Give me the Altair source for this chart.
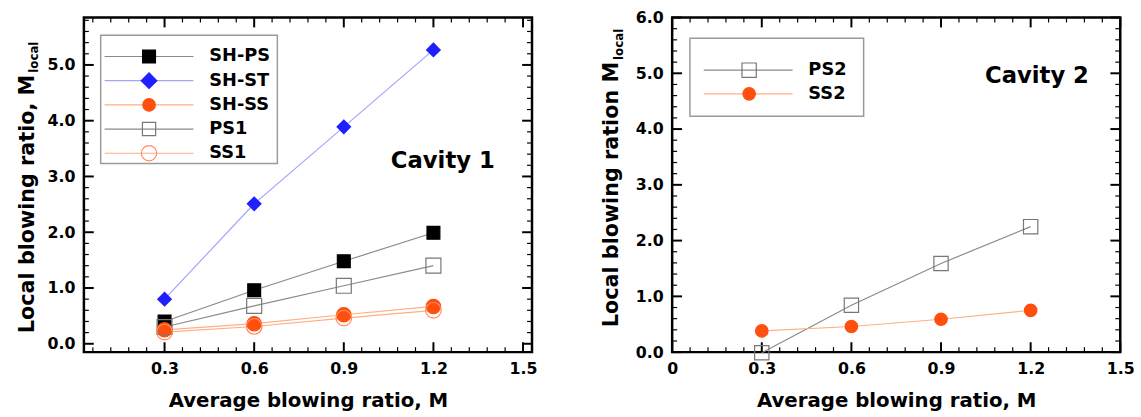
import altair as alt
import pandas as pd

# ---------------- data ----------------
M = [0.3, 0.6, 0.9, 1.2]

sh_ps = [0.40, 0.96, 1.48, 1.99]
sh_st = [0.80, 2.51, 3.89, 5.27]
sh_ss = [0.25, 0.36, 0.52, 0.67]
ps1 = [0.30, 0.68, 1.04, 1.40]
ss1 = [0.21, 0.31, 0.46, 0.60]

ps2 = [-0.01, 0.84, 1.59, 2.25]
ss2 = [0.38, 0.46, 0.59, 0.75]

series1 = ["SH-PS", "SH-ST", "SH-SS", "PS1", "SS1"]
series2 = ["PS2", "SS2"]

x_labels_1 = [0.3, 0.6, 0.9, 1.2, 1.5]
x_labels_2 = [0.0, 0.3, 0.6, 0.9, 1.2, 1.5]
y_labels_1 = [0, 1, 2, 3, 4, 5]
y_labels_2 = [0, 1, 2, 3, 4, 5, 6]

# ---------------- styling ----------------
FONT = "DejaVu Sans"
W, H = 454, 339

STYLE = {
    "SH-PS": dict(line="#8a8a8a", shape="square", fill="#000000", stroke="#000000", size=170),
    "SH-ST": dict(line="#a3a3ff", shape="diamond", fill="#1f1fff", stroke="#1f1fff", size=250),
    "SH-SS": dict(line="#ffae85", shape="circle", fill="#ff4f0f", stroke="#ff4f0f", size=160),
    "PS1": dict(line="#8a8a8a", shape="square", fill="transparent", stroke="#777777", size=180),
    "SS1": dict(line="#ffae85", shape="circle", fill="transparent", stroke="#ff8a5c", size=240),
    "PS2": dict(line="#8a8a8a", shape="square", fill="transparent", stroke="#777777", size=210),
    "SS2": dict(line="#ffae85", shape="circle", fill="#ff4f0f", stroke="#ff4f0f", size=160),
}


def long_df(names, values):
    rows = []
    for n, vals in zip(names, values):
        for m, v in zip(M, vals):
            rows.append({"M": m, "val": v, "series": n})
    return pd.DataFrame(rows)


def tick_layers(xs, ys, xaxis, yaxis, xmajor, xminor, ymajor, yminor):
    layers = []
    for vals, ln in ((xmajor, 10), (xminor, 5)):
        d = pd.DataFrame({"M": vals})
        for y0, y1 in ((H, H - ln), (0, ln)):
            layers.append(
                alt.Chart(d).mark_rule(color="black", strokeWidth=2 if ln == 10 else 1.2).encode(
                    x=alt.X("M:Q", scale=xs, axis=xaxis),
                    y=alt.value(y0), y2=alt.value(y1))
            )
    for vals, ln in ((ymajor, 10), (yminor, 5)):
        d = pd.DataFrame({"val": vals})
        for x0, x1 in ((0, ln), (W, W - ln)):
            layers.append(
                alt.Chart(d).mark_rule(color="black", strokeWidth=2 if ln == 10 else 1.2).encode(
                    y=alt.Y("val:Q", scale=ys, axis=yaxis),
                    x=alt.value(x0), x2=alt.value(x1))
            )
    return layers


def one(text, x, y, size, **kw):
    return alt.Chart(alt.Data(values=[{}])).mark_text(
        font=FONT, fontWeight="bold", fontSize=size, color="black", **kw
    ).encode(x=alt.value(x), y=alt.value(y), text=alt.value(text))


def legend_layers(names, box, line_x, mark_x, text_x, ys):
    x0, y0, x1, y1 = box
    layers = [alt.Chart(alt.Data(values=[{}])).mark_rect(
        fill="white", stroke="#9a9a9a", strokeWidth=1.5
    ).encode(x=alt.value(x0), x2=alt.value(x1), y=alt.value(y0), y2=alt.value(y1))]
    for n, yy in zip(names, ys):
        s = STYLE[n]
        layers.append(alt.Chart(alt.Data(values=[{}])).mark_rule(
            color=s["line"], strokeWidth=1.2
        ).encode(x=alt.value(line_x[0]), x2=alt.value(line_x[1]), y=alt.value(yy)))
        layers.append(alt.Chart(alt.Data(values=[{}])).mark_point(
            shape=s["shape"], fill=s["fill"], stroke=s["stroke"], size=s["size"],
            opacity=1, strokeWidth=1.2, filled=True
        ).encode(x=alt.value(mark_x), y=alt.value(yy)))
        layers.append(one(n, text_x, yy, 18, align="left", baseline="middle"))
    return layers


def panel(df, names, xdom, ydom, xlab, ylab, xfmt, ytitle, ytitle_x, ytitle_end,
          legend, cavity):
    xs = alt.Scale(domain=xdom, nice=False, zero=False)
    ys = alt.Scale(domain=ydom, nice=False, zero=False)
    xaxis = alt.Axis(values=xlab, labelExpr=xfmt, ticks=False, domain=False, grid=False,
                     labelFont=FONT, labelFontSize=16, labelFontWeight="bold",
                     labelColor="black", labelPadding=9, labelFlush=False,
                     labelOverlap=False, labelBound=False,
                     title="Average blowing ratio, M", titleFont=FONT, titleFontSize=20,
                     titleFontWeight="bold", titleColor="black", titlePadding=14)
    yaxis = alt.Axis(values=ylab, format=".1f", ticks=False, domain=False, grid=False,
                     labelFont=FONT, labelFontSize=16, labelFontWeight="bold",
                     labelColor="black", labelPadding=9, labelFlush=False,
                     labelOverlap=False, labelBound=False, title=None)
    color_scale = alt.Scale(domain=names, range=[STYLE[n]["line"] for n in names])
    base = alt.Chart(df)
    lines = base.mark_line(strokeWidth=1.2).encode(
        x=alt.X("M:Q", scale=xs, axis=xaxis),
        y=alt.Y("val:Q", scale=ys, axis=yaxis),
        color=alt.Color("series:N", scale=color_scale, legend=None),
        detail="series:N",
    )
    points = base.mark_point(filled=True, opacity=1, strokeWidth=1.2).encode(
        x=alt.X("M:Q", scale=xs, axis=xaxis),
        y=alt.Y("val:Q", scale=ys, axis=yaxis),
        shape=alt.Shape("series:N", scale=alt.Scale(domain=names, range=[STYLE[n]["shape"] for n in names]), legend=None),
        fill=alt.Fill("series:N", scale=alt.Scale(domain=names, range=[STYLE[n]["fill"] for n in names]), legend=None),
        stroke=alt.Stroke("series:N", scale=alt.Scale(domain=names, range=[STYLE[n]["stroke"] for n in names]), legend=None),
        size=alt.Size("series:N", scale=alt.Scale(domain=names, range=[STYLE[n]["size"] for n in names]), legend=None),
    )
    xmajor = [v for v in xlab]
    xminor = [round(0.06 * i, 2) for i in range(1, 26) if round(0.06 * i, 2) not in xmajor]
    xminor = [v for v in xminor if xdom[0] < v < xdom[1]]
    ymajor = ylab
    yminor = [round(0.2 * i, 1) for i in range(0, 31) if abs(0.2 * i - round(0.2 * i)) > 1e-6]
    yminor = [v for v in yminor if ydom[0] < v < ydom[1]]

    layers = [lines]
    layers += tick_layers(xs, ys, xaxis, yaxis, xmajor, xminor, ymajor, yminor)
    layers += [points]
    layers += legend_layers(names, *legend)
    layers.append(one(cavity[0], cavity[1], cavity[2], 23, align="left", baseline="alphabetic"))
    layers.append(one(ytitle, ytitle_x, ytitle_end, 21, align="right", baseline="alphabetic", angle=270))
    layers.append(one("local", ytitle_x + 5, ytitle_end - 2, 12, align="left", baseline="alphabetic", angle=270))
    return alt.layer(*layers).properties(width=W, height=H)


df1 = long_df(series1, [sh_ps, sh_st, sh_ss, ps1, ss1])
df2 = long_df(series2, [ps2, ss2])

left = panel(
    df1, series1, [0.03, 1.53], [-0.15, 5.85], x_labels_1, y_labels_1,
    "format(datum.value, '.1f')",
    "Local blowing ratio, M", -51, 58,
    ((17, 18, 196, 148), (21, 111), 66, 127, [39.5, 64, 88.5, 113, 137.5]),
    ("Cavity 1", 311, 152),
)
right = panel(
    df2, series2, [0.0, 1.5], [0.0, 6.0], x_labels_2, y_labels_2,
    "datum.value == 0 ? '0' : format(datum.value, '.1f')",
    "Local blowing ration M", -55, 45,
    ((18, 21, 194, 100), (32, 122), 78, 138, [53.3, 77.3]),
    ("Cavity 2", 317, 66),
)

chart = alt.hconcat(left, right, spacing=61).resolve_scale(
    color="independent", shape="independent", fill="independent",
    stroke="independent", size="independent", x="independent", y="independent"
).properties(
    padding={"left": 15, "top": 5, "right": 5, "bottom": 5}
).configure_view(stroke="black", strokeWidth=2.5)

chart.save("out.html", embed_options={"renderer": "svg", "actions": False})
